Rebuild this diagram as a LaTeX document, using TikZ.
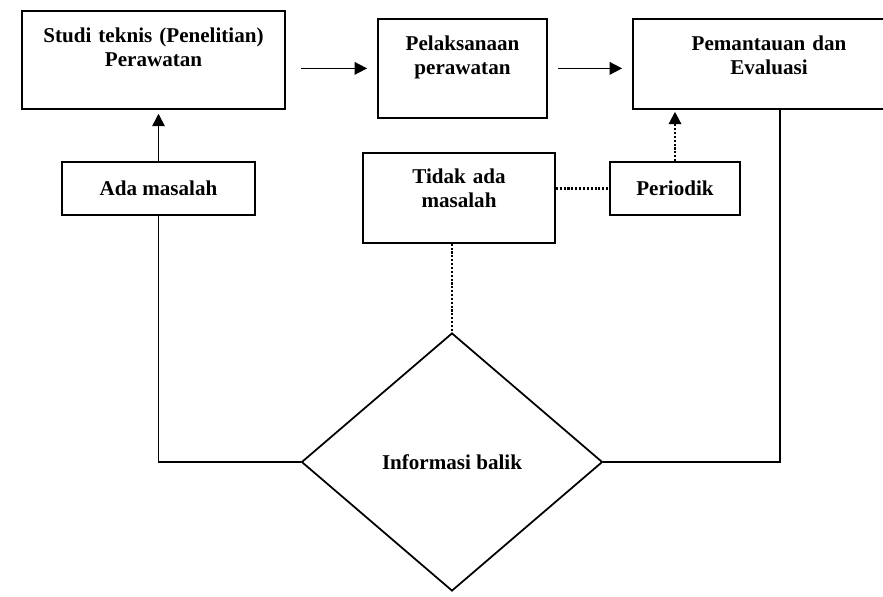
\documentclass[tikz,border=0pt]{standalone}
\usepackage{fontspec}
\setmainfont{Liberation Serif}
\usetikzlibrary{arrows.meta,shapes.geometric}
\newcommand{\boxFont}{\fontsize{12}{13.5}\selectfont\bfseries}

\begin{document}
\begin{tikzpicture}[x=0.02cm, y=-0.02cm]
  \tikzset{
    flow box/.style={draw, line width=1pt, align=center, font=\boxFont, inner sep=0pt},
    top box/.style={flow box, anchor=north},
    decision/.style={draw, diamond, line width=1pt, font=\boxFont, inner sep=0pt},
    link/.style={line width=0.9pt},
    flow arrow/.style={link, -{Triangle[length=2.5mm,width=2.5mm]}},
    dot link/.style={line width=1.2pt, densely dotted}
  }
  \clip (0,0) rectangle (883,596);

  % upper row
  \node[top box, text width=5.26cm, text height=0.64cm, text depth=1.32cm]
    (studi) at (153.5,10) {Studi teknis (Penelitian)\\Perawatan};
  \node[top box, text width=3.38cm, text height=0.64cm, text depth=1.34cm]
    (pelaksanaan) at (462.5,18) {Pelaksanaan\\perawatan};
  \node[top box, text width=5.44cm, text height=0.64cm, text depth=1.16cm]
    (pemantauan) at (769,18) {Pemantauan dan\\Evaluasi};

  % middle row
  \node[flow box, minimum width=3.86cm, minimum height=1.06cm]
    (ada) at (158.5,188.5) {Ada masalah};
  \node[top box, text width=3.84cm, text height=0.62cm, text depth=1.18cm]
    (tidak) at (459,152) {Tidak ada\\masalah};
  \node[flow box, minimum width=2.6cm, minimum height=1.06cm]
    (periodik) at (675,188.5) {Periodik};

  % feedback
  \node[decision, minimum width=6.02cm, minimum height=5.16cm]
    (info) at (452,462) {Informasi balik};

  \draw[flow arrow, shorten <=0.3cm, shorten >=0.2cm]
    (studi.east |- pelaksanaan.west) -- (pelaksanaan.west);
  \draw[flow arrow, shorten <=0.2cm, shorten >=0.2cm]
    (pelaksanaan.east) -- (pelaksanaan.east -| pemantauan.west);
  \draw[flow arrow, shorten >=0.08cm] (ada.north) -- (ada.north |- studi.south);
  \draw[dot link, -{Triangle[length=2.5mm,width=2.5mm]}, shorten >=0.04cm]
    (periodik.north) -- (periodik.north |- pemantauan.south);
  \draw[dot link] (tidak.east |- periodik.west) -- (periodik.west);
  \draw[dot link] (info.north |- tidak.south) -- (info.north);
  \draw[link] (ada.south) |- (info.west);
  \draw[link] ([xshift=0.22cm]pemantauan.south) |- (info.east);
\end{tikzpicture}
\end{document}
